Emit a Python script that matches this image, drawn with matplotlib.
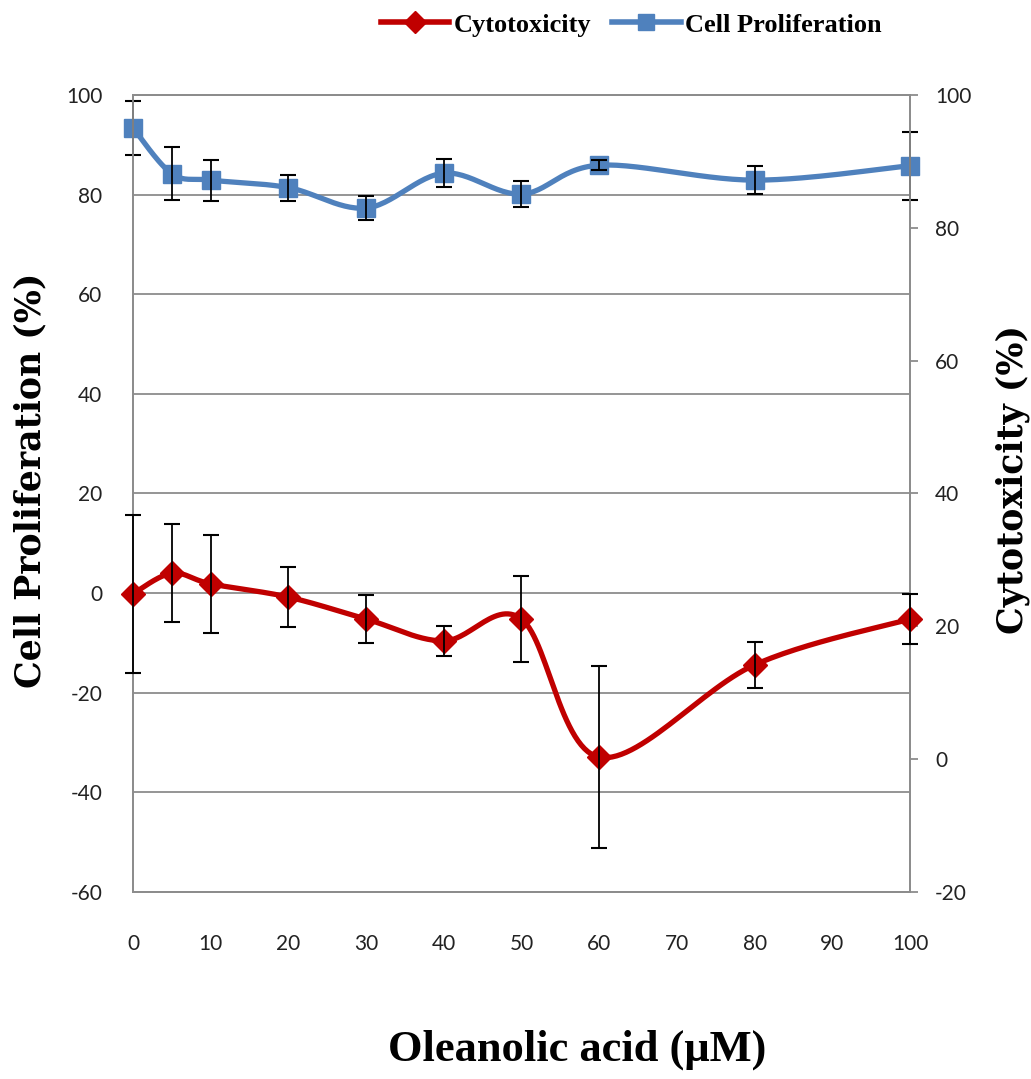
import numpy as np
import matplotlib
matplotlib.use("Agg")
import matplotlib.pyplot as plt
from matplotlib.lines import Line2D

# concentrations of oleanolic acid (uM)
conc = [0, 5, 10, 20, 30, 40, 50, 60, 80, 100]
# cell proliferation (%), left axis
prolif = [93.4, 84.2, 82.9, 81.4, 77.3, 84.3, 80.1, 85.9, 82.9, 85.8]
prolif_err = [5.4, 5.3, 4.1, 2.6, 2.4, 2.8, 2.6, 1.0, 2.8, 6.8]
# cytotoxicity (%), right axis
cyto = [24.9, 28.0, 26.4, 24.4, 21.1, 17.8, 21.1, 0.3, 14.2, 21.1]
cyto_err = [11.9, 7.4, 7.4, 4.5, 3.6, 2.2, 6.5, 13.7, 3.5, 3.8]

xticks = [0, 10, 20, 30, 40, 50, 60, 70, 80, 90, 100]
left_ticks = [-60, -40, -20, 0, 20, 40, 60, 80, 100]
right_ticks = [-20, 0, 20, 40, 60, 80, 100]

RED = "#C00000"
BLUE = "#4F81BD"
GRID = "#8C8C8C"


def smooth(xs, ys, sx, sy, n=30):
    # excel-like smoothed line: bezier through the points, tangents from neighbours
    p = np.column_stack([np.array(xs) * sx, np.array(ys) * sy])
    out = []
    for i in range(len(p) - 1):
        p0 = p[i - 1] if i > 0 else p[i]
        p3 = p[i + 2] if i + 2 < len(p) else p[i + 1]
        c1 = p[i] + (p[i + 1] - p0) / 6
        c2 = p[i + 1] - (p3 - p[i]) / 6
        t = np.linspace(0, 1, n)[:, None]
        seg = ((1 - t) ** 3 * p[i] + 3 * (1 - t) ** 2 * t * c1
               + 3 * (1 - t) * t ** 2 * c2 + t ** 3 * p[i + 1])
        out.append(seg if i == 0 else seg[1:])
    out = np.vstack(out)
    return out[:, 0] / sx, out[:, 1] / sy


def noclip(container):
    for art in container.get_children():
        art.set_clip_on(False)


plt.rcParams["font.family"] = ["Lato", "DejaVu Sans"]
plt.rcParams["axes.unicode_minus"] = False

fig = plt.figure(figsize=(10.31, 10.79), dpi=100)
ax = fig.add_axes([0.129, 0.1733, 0.7536, 0.7387])
ax2 = ax.twinx()

ax.set_xlim(0, 100)
ax.set_ylim(-60, 100)
ax2.set_ylim(-20, 100)

# gridlines from the left axis
ax.set_yticks(left_ticks)
ax.grid(axis="y", color=GRID, linewidth=1.3)
ax.set_axisbelow(True)

# cell proliferation
bx, by = smooth(conc, prolif, 7.77, 4.98)
ax.plot(bx, by, color=BLUE, lw=3.8, solid_capstyle="round", zorder=3, clip_on=False)
ax.plot(conc, prolif, ls="none", marker="s", ms=13, color=BLUE, zorder=4, clip_on=False)
eb = ax.errorbar(conc, prolif, yerr=prolif_err, fmt="none", ecolor="black",
                 elinewidth=1.3, capsize=6, capthick=1.5, zorder=5)
noclip(eb)

# cytotoxicity
rx, ry = smooth(conc, cyto, 7.77, 6.64)
ax2.plot(rx, ry, color=RED, lw=3.8, solid_capstyle="round", zorder=3, clip_on=False)
ax2.plot(conc, cyto, ls="none", marker="D", ms=12, color=RED, zorder=4, clip_on=False)
eb = ax2.errorbar(conc, cyto, yerr=cyto_err, fmt="none", ecolor="black",
                  elinewidth=1.3, capsize=6, capthick=1.5, zorder=5)
noclip(eb)

ax.set_xticks(xticks)
ax2.set_yticks(right_ticks)

for a in (ax, ax2):
    for s in a.spines.values():
        s.set_color(GRID)
        s.set_linewidth(1.3)

ax.tick_params(axis="x", length=0, pad=30, labelsize=15, labelcolor="#222222")
ax.tick_params(axis="y", length=0, pad=22, labelsize=15, labelcolor="#222222")
ax2.tick_params(axis="y", length=6, width=1.3, color=GRID, direction="out",
                pad=12, labelsize=15, labelcolor="#222222")

# axis titles placed like the original
fig.text(30 / 1031, 1 - 480 / 1079, "Cell Proliferation (%)", rotation=90,
         ha="center", va="center", family="DejaVu Serif", fontweight="bold",
         fontsize=25)
fig.text(1013 / 1031, 1 - 479 / 1079, "Cytotoxicity (%)", rotation=90,
         ha="center", va="center", family="DejaVu Serif", fontweight="bold",
         fontsize=25)
fig.text(577 / 1031, 1 - 1050 / 1079, "Oleanolic acid (\u03bcM)",
         ha="center", va="center", family="Liberation Serif", fontweight="bold",
         fontsize=32)

handles = [
    Line2D([], [], color=RED, lw=4, marker="D", ms=11),
    Line2D([], [], color=BLUE, lw=4, marker="s", ms=12),
]
fig.legend(handles, ["Cytotoxicity", "Cell Proliferation"], ncol=2,
           loc="center", bbox_to_anchor=(0.612, 0.977), frameon=False,
           handlelength=2.6, columnspacing=0.8, handletextpad=0.15,
           prop={"family": "Liberation Serif", "weight": "bold", "size": 19})

fig.savefig("out.png", dpi=100, facecolor="white")
